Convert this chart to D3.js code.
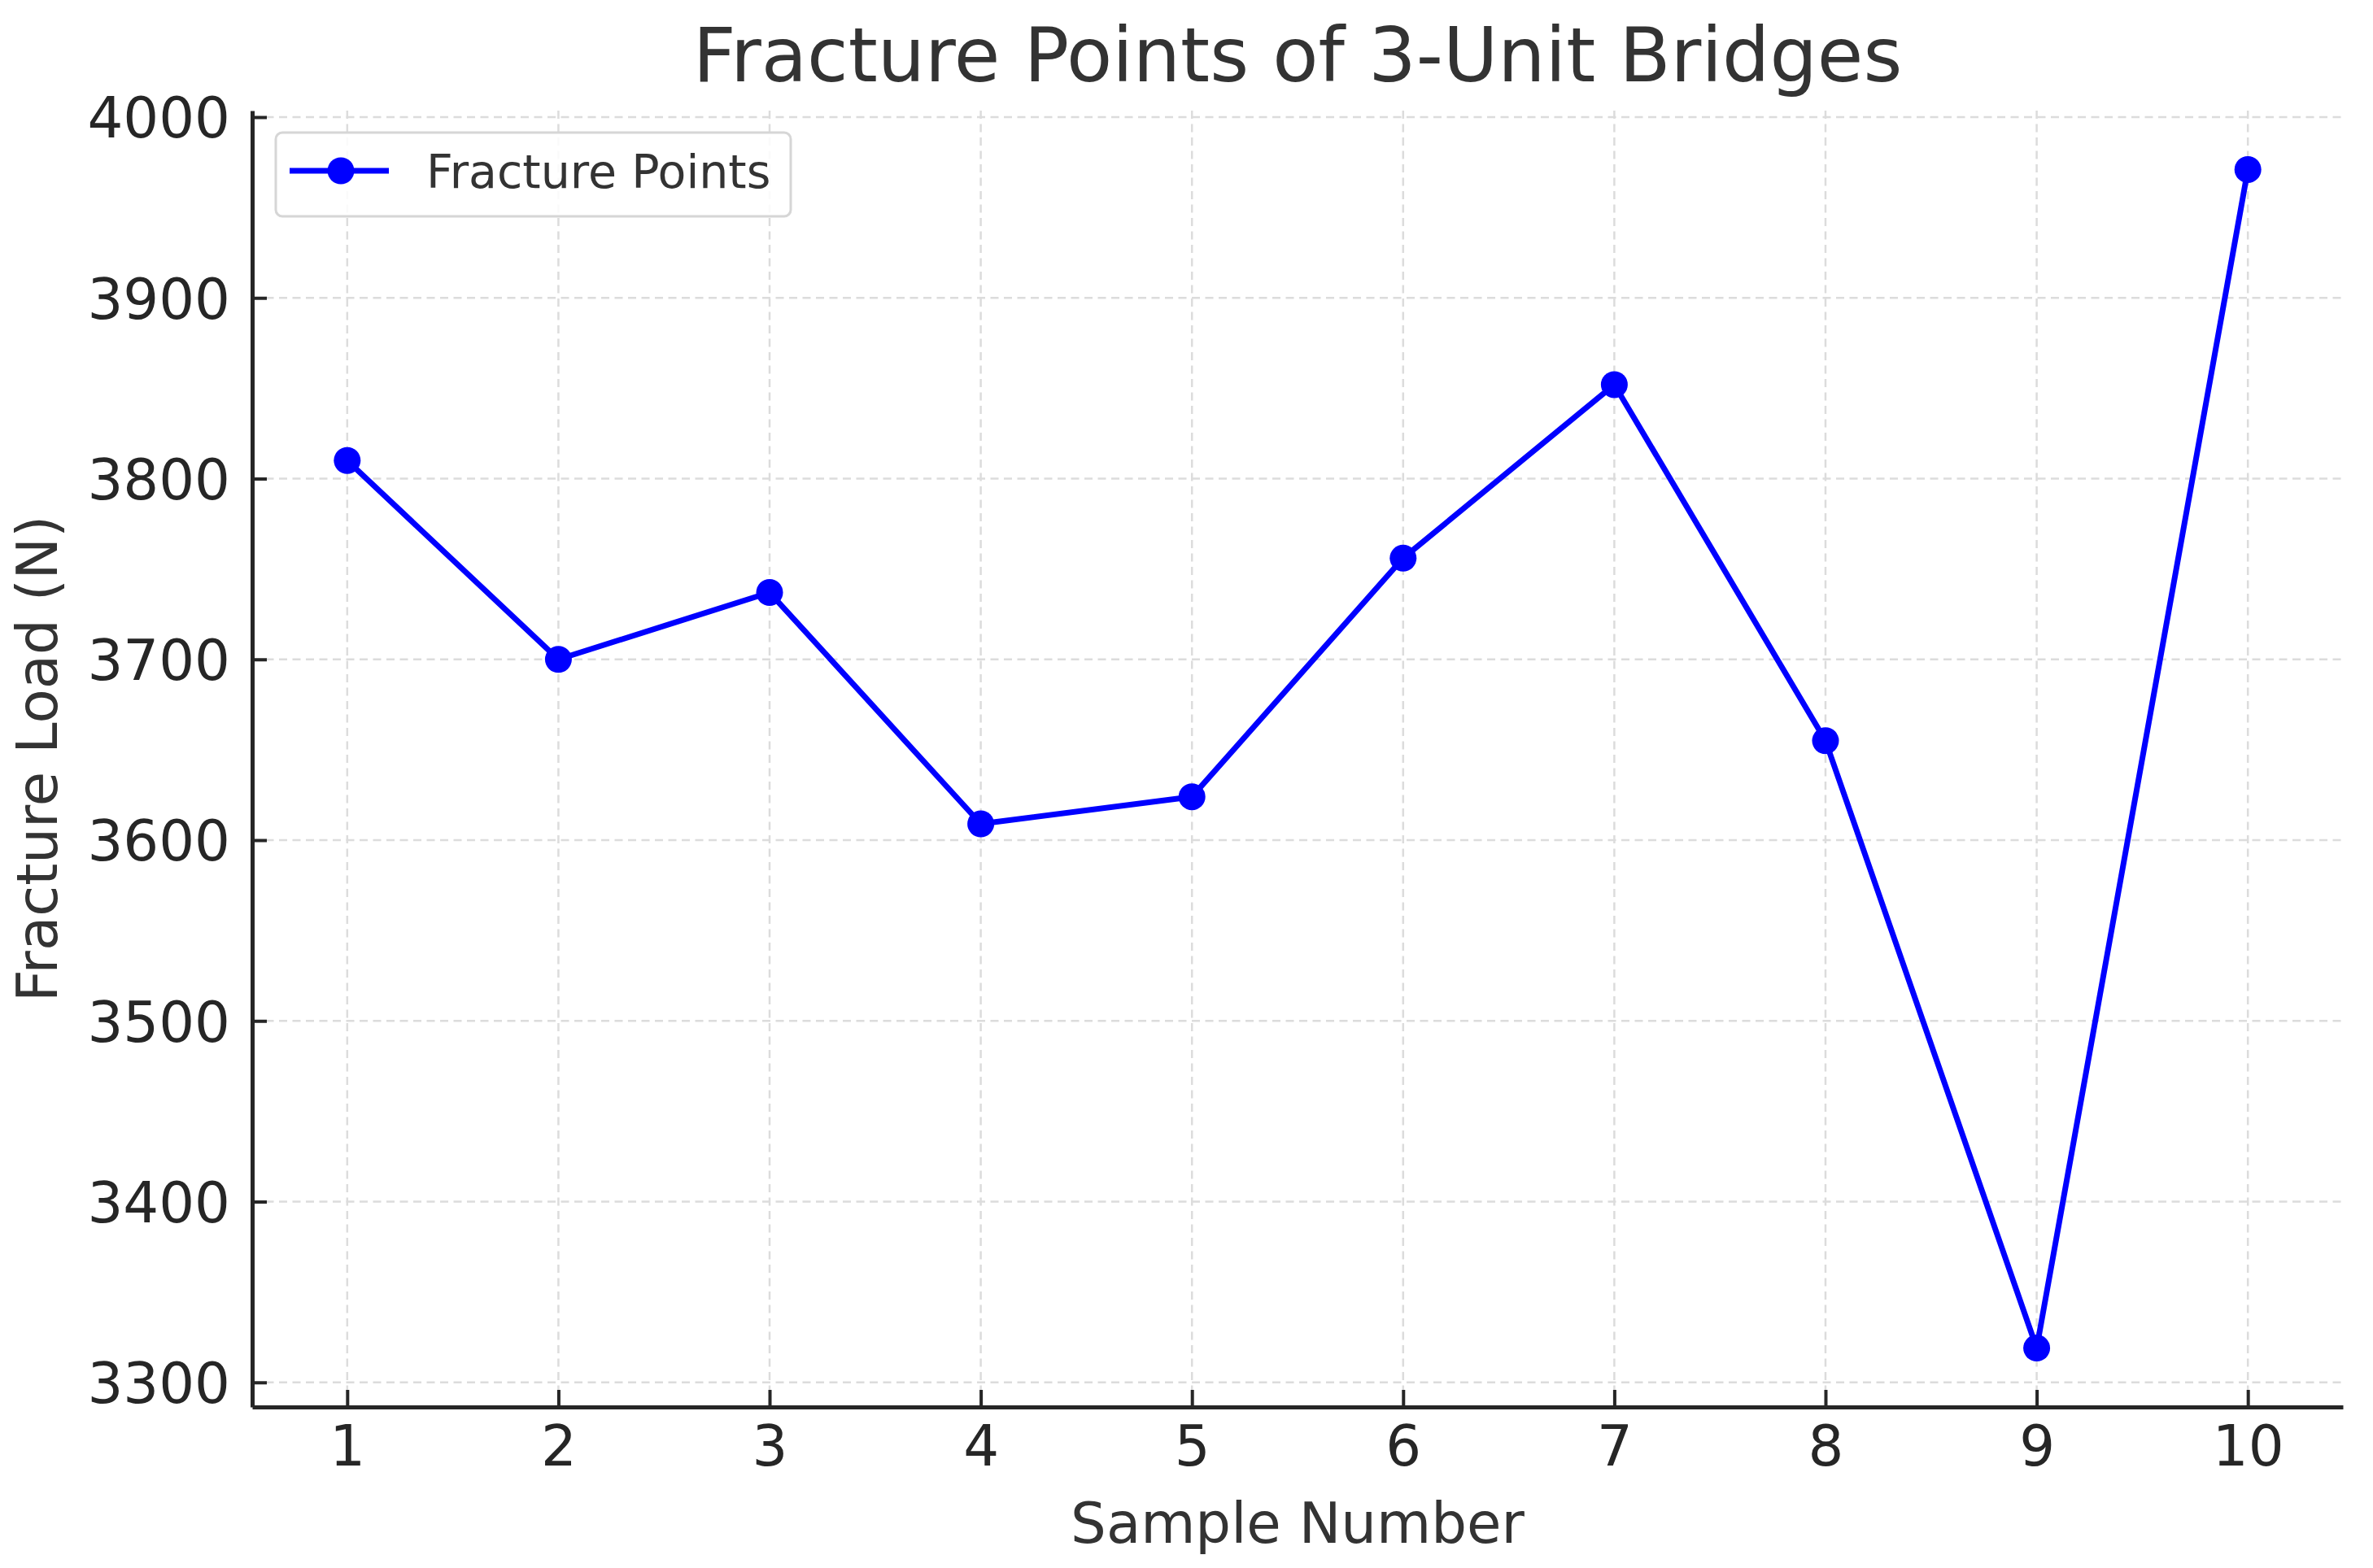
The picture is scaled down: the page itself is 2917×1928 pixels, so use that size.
<!DOCTYPE html>
<html>
<head>
<meta charset="utf-8">
<script src="https://cdn.jsdelivr.net/npm/d3@7"></script>
<style>
  html, body { margin: 0; padding: 0; background: #fff; }
  svg { display: block; }
  text { font-family: "DejaVu Sans", sans-serif; }
</style>
</head>
<body>
<svg id="chart" width="2917" height="1928"></svg>
<script>
// ---- data ----
const samples = [1, 2, 3, 4, 5, 6, 7, 8, 9, 10];
const fractureLoads = [3810, 3700, 3737, 3609, 3624, 3756, 3852, 3655, 3319, 3971];
const xTicks = [1, 2, 3, 4, 5, 6, 7, 8, 9, 10];
const yTicks = [3300, 3400, 3500, 3600, 3700, 3800, 3900, 4000];
const titleText = "Fracture Points of 3-Unit Bridges";
const xLabelText = "Sample Number";
const yLabelText = "Fracture Load (N)";
const seriesName = "Fracture Points";

// ---- layout ----
const W = 2917, H = 1928;
const m = { left: 310, right: W - 2880, top: 136, bottom: H - 1730 };
const svg = d3.select("#chart");

const xPad = 0.05 * (d3.max(samples) - d3.min(samples));
const yMin = d3.min(fractureLoads), yMax = d3.max(fractureLoads);
const yPad = 0.05 * (yMax - yMin);

const x = d3.scaleLinear()
  .domain([d3.min(samples) - xPad, d3.max(samples) + xPad])
  .range([m.left, W - m.right]);
const y = d3.scaleLinear()
  .domain([yMin - yPad, yMax + yPad])
  .range([H - m.bottom, m.top]);

// grid
const grid = svg.append("g");
grid.selectAll("line.gx").data(xTicks).join("line")
  .attr("x1", d => x(d)).attr("x2", d => x(d))
  .attr("y1", m.top).attr("y2", H - m.bottom)
  .attr("stroke", "#dcdcdc").attr("stroke-width", 2.5)
  .attr("stroke-dasharray", "10,6.5");
grid.selectAll("line.gy").data(yTicks).join("line")
  .attr("x1", m.left).attr("x2", W - m.right)
  .attr("y1", d => y(d)).attr("y2", d => y(d))
  .attr("stroke", "#dcdcdc").attr("stroke-width", 2.5)
  .attr("stroke-dasharray", "10,6.5");

// axes
const xAxis = d3.axisBottom(x).tickValues(xTicks).tickSizeInner(-21).tickSizeOuter(0).tickPadding(23).tickFormat(d3.format("d"));
const yAxis = d3.axisLeft(y).tickValues(yTicks).tickSizeInner(-18).tickSizeOuter(0).tickPadding(27).tickFormat(d3.format("d"));

const gx = svg.append("g").attr("transform", `translate(0,${H - m.bottom})`).call(xAxis);
const gy = svg.append("g").attr("transform", `translate(${m.left},0)`).call(yAxis);

[gx, gy].forEach(g => {
  g.select(".domain").attr("stroke", "#262626").attr("stroke-width", 5);
  g.selectAll(".tick line").attr("stroke", "#262626").attr("stroke-width", 4);
  g.selectAll(".tick text").attr("fill", "#262626").attr("font-size", 69)
    .attr("font-family", "DejaVu Sans");
});
gx.selectAll(".tick text").attr("dy", "0.71em");
gy.selectAll(".tick text").attr("dy", "0.36em");

// line + markers
const line = d3.line().x((d, i) => x(samples[i])).y(d => y(d));
svg.append("path").datum(fractureLoads)
  .attr("d", line).attr("fill", "none")
  .attr("stroke", "#0000ff").attr("stroke-width", 7)
  .attr("stroke-linejoin", "round");
svg.selectAll("circle.pt").data(fractureLoads).join("circle")
  .attr("class", "pt")
  .attr("cx", (d, i) => x(samples[i])).attr("cy", d => y(d))
  .attr("r", 16.5).attr("fill", "#0000ff");

// title & labels
svg.append("text").attr("x", (m.left + W - m.right) / 2).attr("y", 100)
  .attr("text-anchor", "middle").attr("font-size", 92).attr("fill", "#333")
  .text(titleText);
svg.append("text").attr("x", (m.left + W - m.right) / 2).attr("y", 1897)
  .attr("text-anchor", "middle").attr("font-size", 69).attr("fill", "#333")
  .text(xLabelText);
svg.append("text")
  .attr("transform", `translate(70,${(m.top + H - m.bottom) / 2}) rotate(-90)`)
  .attr("text-anchor", "middle").attr("font-size", 69).attr("fill", "#333")
  .text(yLabelText);

// legend
const lg = svg.append("g");
lg.append("rect").attr("x", 339).attr("y", 163).attr("width", 633).attr("height", 103)
  .attr("rx", 8).attr("fill", "#fff").attr("fill-opacity", 0.85)
  .attr("stroke", "#d6d6d6").attr("stroke-width", 3);
lg.append("line").attr("x1", 356).attr("x2", 478).attr("y1", 210).attr("y2", 210)
  .attr("stroke", "#0000ff").attr("stroke-width", 7);
lg.append("circle").attr("cx", 419).attr("cy", 210).attr("r", 16.5).attr("fill", "#0000ff");
lg.append("text").attr("x", 524).attr("y", 231).attr("font-size", 57).attr("fill", "#333")
  .text(seriesName);
</script>
</body>
</html>
